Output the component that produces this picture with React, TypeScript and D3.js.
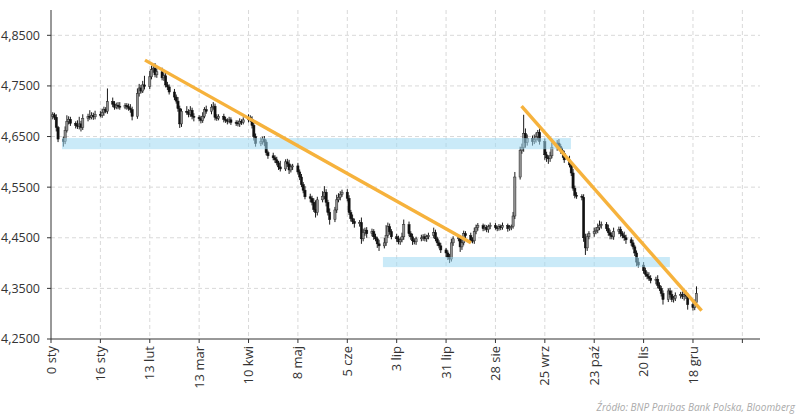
import React from "react";
import * as d3 from "d3";

// Daily closes, in thousandths above 4.000 (e.g. 693 = 4,693), business days from 20 Dec 2022
const CLOSE = [
  693, 688, 668, 645, 640, 662, 680, 684, 676, 672,
  670, 675, 668, 686, 690, 688, 692, 689, 694, 692,
  697, 703, 700, 719, 714, 708, 712, 710, 708, 711,
  709, 706, 703, 690, 735, 746, 740, 752, 749, 768,
  782, 785, 772, 778, 766, 770, 752, 748, 738, 728,
  720, 705, 675, 700, 698, 694, 702, 690, 688, 685,
  682, 690, 703, 700, 708, 710, 688, 686, 690, 684,
  682, 680, 683, 678, 677, 675, 680, 678, 683, 688,
  684, 672, 650, 636, 640, 645, 639, 618, 612, 608,
  604, 598, 590, 586, 600, 596, 584, 590, 592, 580,
  570, 555, 544, 531, 528, 520, 506, 500, 525, 532,
  540, 520, 500, 486, 505, 525, 530, 536, 540, 528,
  500, 488, 482, 478, 480, 448, 460, 465, 458, 462,
  452, 448, 438, 434, 440, 455, 472, 462, 452, 448,
  442, 446, 452, 476, 458, 452, 444, 442, 448, 450,
  452, 448, 452, 455, 460, 448, 440, 434, 426, 420,
  412, 408, 440, 448, 450, 432, 440, 458, 454, 445,
  444, 462, 470, 474, 468, 470, 466, 472, 474, 470,
  468, 472, 470, 474, 468, 470, 472, 493, 570, 622,
  628, 656, 638, 646, 640, 644, 650, 658, 640, 614,
  608, 606, 612, 628, 637, 630, 622, 616, 604, 594,
  578, 548, 534, 532, 530, 450, 430, 452, 458, 462,
  465, 470, 474, 476, 468, 460, 455, 452, 462, 466,
  458, 454, 450, 446, 440, 432, 420, 402, 396, 385,
  378, 374, 370, 366, 368, 356, 350, 340, 328, 345,
  338, 328, 330, 336, 338, 334, 338, 335, 318, 312,
  322, 340,
];
// Upper / lower wick lengths beyond the body, in thousandths
const HI_WICK = [
  5, 4, 6, 3, 5, 8, 12, 6, 5, 4,
  10, 14, 6, 8, 5, 12, 6, 5, 7, 6,
  8, 6, 5, 26, 8, 6, 5, 6, 8, 5,
  5, 6, 8, 6, 10, 8, 6, 8, 18, 12,
  8, 5, 10, 6, 8, 5, 8, 6, 5, 6,
  5, 8, 6, 5, 10, 6, 8, 5, 6, 4,
  6, 8, 5, 8, 6, 8, 5, 6, 4, 5,
  5, 4, 6, 5, 4, 5, 6, 4, 5, 6,
  4, 6, 5, 6, 8, 5, 6, 5, 4, 6,
  5, 6, 4, 12, 5, 6, 8, 5, 4, 6,
  5, 6, 5, 8, 6, 5, 8, 18, 6, 10,
  12, 6, 5, 8, 6, 10, 8, 6, 5, 6,
  6, 5, 8, 6, 5, 10, 8, 5, 6, 6,
  5, 6, 4, 8, 10, 20, 8, 6, 5, 6,
  6, 5, 8, 10, 6, 5, 6, 5, 4, 6,
  5, 6, 4, 5, 10, 6, 4, 5, 6, 4,
  5, 6, 8, 5, 6, 5, 8, 6, 5, 6,
  6, 8, 6, 5, 4, 6, 5, 4, 6, 5,
  4, 5, 4, 6, 4, 5, 4, 8, 10, 8,
  8, 37, 10, 8, 6, 10, 8, 5, 8, 6,
  6, 5, 8, 10, 6, 8, 5, 6, 6, 8,
  6, 8, 5, 6, 4, 6, 8, 6, 5, 8,
  6, 8, 10, 6, 5, 8, 6, 5, 8, 6,
  6, 5, 8, 6, 5, 6, 4, 5, 8, 6,
  6, 5, 8, 6, 5, 8, 6, 5, 6, 5,
  6, 8, 5, 6, 5, 6, 5, 8, 6, 5,
  6, 14,
];
const LO_WICK = [
  6, 5, 8, 6, 10, 5, 4, 6, 5, 6,
  5, 6, 8, 5, 6, 5, 4, 6, 5, 4,
  5, 6, 4, 5, 6, 5, 4, 6, 5, 4,
  6, 5, 6, 8, 5, 6, 5, 4, 6, 5,
  5, 6, 5, 6, 5, 6, 5, 6, 5, 6,
  5, 6, 8, 6, 5, 6, 5, 6, 8, 5,
  6, 5, 4, 5, 6, 5, 6, 5, 4, 6,
  5, 6, 4, 5, 6, 5, 6, 5, 4, 5,
  5, 6, 8, 6, 5, 6, 8, 5, 6, 5,
  6, 5, 6, 5, 4, 6, 8, 5, 6, 5,
  6, 5, 6, 5, 8, 6, 5, 10, 6, 5,
  6, 8, 6, 10, 5, 6, 5, 6, 5, 6,
  5, 6, 5, 8, 6, 10, 5, 6, 8, 5,
  6, 5, 8, 10, 5, 6, 5, 6, 5, 6,
  5, 6, 5, 6, 5, 6, 8, 5, 6, 5,
  6, 5, 6, 5, 6, 5, 6, 5, 6, 8,
  6, 8, 5, 6, 5, 10, 6, 5, 6, 5,
  5, 6, 5, 6, 5, 4, 5, 6, 5, 4,
  5, 4, 5, 4, 6, 4, 5, 4, 6, 5,
  6, 8, 10, 6, 8, 5, 6, 8, 6, 10,
  8, 10, 6, 5, 6, 5, 6, 8, 6, 5,
  6, 5, 6, 5, 6, 8, 14, 6, 5, 6,
  5, 6, 5, 6, 5, 6, 8, 5, 6, 5,
  6, 5, 6, 8, 6, 5, 6, 8, 5, 6,
  5, 6, 5, 6, 8, 6, 5, 6, 10, 5,
  6, 5, 6, 5, 6, 5, 8, 6, 10, 6,
  5, 6,
];
const FIRST_OPEN = 690;
const START_DATE = new Date(2022, 11, 20);
const DAY_ZERO = new Date(2022, 11, 31); // "0 sty"

const X_TICK_DAYS = [-12, 16, 44, 72, 100, 128, 156, 184, 212, 240, 268, 296, 324, 352, 380];
const X_TICK_LABELS = ["0 sty", "16 sty", "13 lut", "13 mar", "10 kwi", "8 maj", "5 cze", "3 lip", "31 lip", "28 sie", "25 wrz", "23 paź", "20 lis", "18 gru", ""];
const Y_TICKS = [4.25, 4.35, 4.45, 4.55, 4.65, 4.75, 4.85];

const BANDS = [
  { d0: -5.8, d1: 282.8, v0: 4.625, v1: 4.647 },
  { d0: 176.2, d1: 338.9, v0: 4.392, v1: 4.412 },
];
const TREND_LINES = [
  { d0: 41.3, v0: 4.801, d1: 226.1, v1: 4.44 },
  { d0: 254.8, v0: 4.71, d1: 356.9, v1: 4.306 },
];

const FONT = "'Open Sans', 'Noto Sans', sans-serif";

export default function App() {
  const W = 800, H = 420;
  const x = d3.scaleLinear().domain([-12, 390]).range([51, 760]);
  const y = d3.scaleLinear().domain([4.25, 4.9]).range([339, 10]);

  // business days
  const days: number[] = [];
  const dt = new Date(START_DATE);
  while (days.length < CLOSE.length) {
    const wd = dt.getDay();
    if (wd !== 0 && wd !== 6) {
      days.push(Math.round((dt.getTime() - DAY_ZERO.getTime()) / 86400000));
    }
    dt.setDate(dt.getDate() + 1);
  }

  const candles = CLOSE.map((c, i) => {
    const o = i === 0 ? FIRST_OPEN : CLOSE[i - 1];
    const top = Math.max(o, c), bot = Math.min(o, c);
    return {
      d: days[i],
      open: 4 + o / 1000,
      close: 4 + c / 1000,
      high: 4 + (top + HI_WICK[i]) / 1000,
      low: 4 + (bot - LO_WICK[i]) / 1000,
    };
  });

  const fmt = (v: number) => v.toFixed(4).replace(".", ",");
  const bw = 2.2;

  return (
    <div style={{ position: "absolute", left: 0, top: 0 }}>
      <svg width={W} height={H} style={{ display: "block", background: "#fff" }}>
        {/* grid */}
        {Y_TICKS.slice(1).map((t) => (
          <line key={"gy" + t} x1={51} x2={760} y1={y(t)} y2={y(t)} stroke="#d9d9d9" strokeWidth={1} strokeDasharray="4,3" />
        ))}
        {X_TICK_DAYS.slice(1).map((t) => (
          <line key={"gx" + t} x1={x(t)} x2={x(t)} y1={10} y2={339} stroke="#d9d9d9" strokeWidth={1} strokeDasharray="4,3" />
        ))}

        {/* candles */}
        {candles.map((c, i) => {
          const up = c.close >= c.open;
          const cx = x(c.d);
          const yt = y(Math.max(c.open, c.close));
          const yb = y(Math.min(c.open, c.close));
          return (
            <g key={i}>
              <line x1={cx} x2={cx} y1={y(c.high)} y2={y(c.low)} stroke="#1a1a1a" strokeWidth={1} />
              <rect x={cx - bw / 2} y={yt} width={bw} height={Math.max(1, yb - yt)}
                fill={up ? "#8f8f8f" : "#111"} stroke={up ? "#2a2a2a" : "#111"} strokeWidth={0.5} />
            </g>
          );
        })}

        {/* bands */}
        {BANDS.map((b, i) => (
          <rect key={"b" + i} x={x(b.d0)} width={x(b.d1) - x(b.d0)} y={y(b.v1)} height={y(b.v0) - y(b.v1)}
            fill="#9fd8f2" fillOpacity={0.55} />
        ))}

        {/* trend lines */}
        {TREND_LINES.map((l, i) => (
          <line key={"t" + i} x1={x(l.d0)} y1={y(l.v0)} x2={x(l.d1)} y2={y(l.v1)} stroke="#f6b23c" strokeWidth={3.4} strokeLinecap="butt" />
        ))}

        {/* axes */}
        <line x1={51} x2={51} y1={10} y2={339} stroke="#333" strokeWidth={1} />
        <line x1={51} x2={760} y1={339} y2={339} stroke="#333" strokeWidth={1} />
        {Y_TICKS.map((t) => (
          <g key={"yt" + t}>
            <line x1={47} x2={51} y1={y(t)} y2={y(t)} stroke="#333" />
            <text x={40} y={y(t)} dy="0.35em" textAnchor="end" fontFamily={FONT} fontSize={12.5} fill="#333">{fmt(t)}</text>
          </g>
        ))}
        {X_TICK_DAYS.map((t, i) => (
          <g key={"xt" + t}>
            <line x1={x(t)} x2={x(t)} y1={339} y2={343} stroke="#333" />
            <text transform={`translate(${x(t)},346) rotate(-90)`} textAnchor="end" dy="0.35em"
              fontFamily={FONT} fontSize={13} fill="#333">{X_TICK_LABELS[i]}</text>
          </g>
        ))}

        <text x={795} y={411} textAnchor="end" fontFamily={FONT} fontSize={10} fontStyle="italic" fill="#aaa">
          Źródło:  BNP Paribas Bank Polska, Bloomberg
        </text>
      </svg>
    </div>
  );
}
